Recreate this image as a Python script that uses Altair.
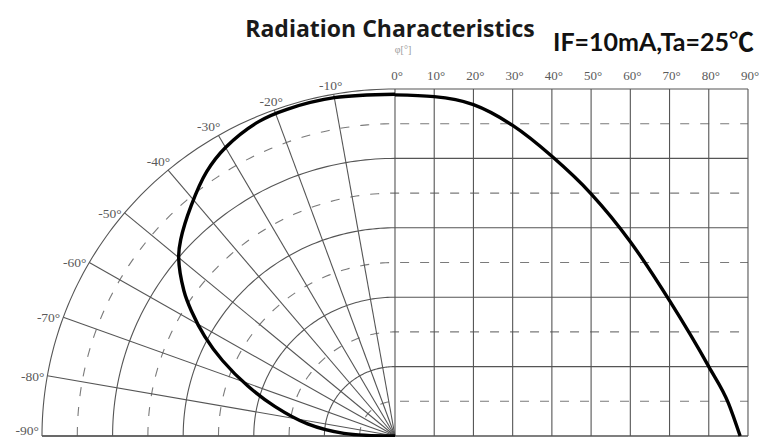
import altair as alt
import pandas as pd

# ---------------- data ----------------
# polar (left half): angle off-axis (deg) and relative intensity
polar_angle = [0, 10, 18, 23, 30, 35, 41, 47, 50, 55, 58, 62, 66, 71, 76, 82, 87, 90]
polar_intensity = [0.985, 0.99, 0.99, 0.985, 0.96, 0.93, 0.88, 0.83, 0.80, 0.73,
                   0.68, 0.61, 0.535, 0.44, 0.35, 0.25, 0.145, 0.0]
# rectangular (right half): angle (deg) and relative intensity
rect_angle = [0, 10, 20, 30, 40, 50, 60, 70, 80, 85, 88]
rect_intensity = [0.983, 0.978, 0.955, 0.895, 0.806, 0.698, 0.56, 0.39, 0.2, 0.095, 0.0]

polar_ticks = [-10, -20, -30, -40, -50, -60, -70, -80, -90]
top_ticks = [0, 10, 20, 30, 40, 50, 60, 70, 80, 90]
solid_levels = [0.2, 0.4, 0.6, 0.8, 1.0]
dashed_levels = [0.1, 0.3, 0.5, 0.7, 0.9]

title_text = "Radiation Characteristics"
cond_text = "IF=10mA,Ta=25℃"
axis_text = "φ[°]"

# ---------------- scales ----------------
xs = alt.Scale(domain=[-1.0963, 1.0312], nice=False, zero=False)
ys = alt.Scale(domain=[-0.0029, 1.2334], nice=False, zero=False)


def X(f):
    return alt.X(f, type="quantitative", scale=xs, axis=None)


def Y(f):
    return alt.Y(f, type="quantitative", scale=ys, axis=None)


GRID = "#555555"
DASH = "#7a7a7a"
LABEL = "#5a5a5a"
RAD = "PI/180"


def rings(levels, dashed):
    ch = (
        alt.Chart(pd.DataFrame({"lev": levels}))
        .transform_calculate(t="sequence(0, 92, 1)")
        .transform_flatten(["t"])
        .transform_calculate(
            gx=f"datum.t <= 90 ? -datum.lev*sin((90-datum.t)*{RAD}) : 1",
            gy=f"datum.t <= 90 ? datum.lev*cos((90-datum.t)*{RAD}) : datum.lev",
        )
    )
    if dashed:
        m = ch.mark_line(color=DASH, strokeWidth=1.1, strokeDash=[9, 11])
    else:
        m = ch.mark_line(color=GRID, strokeWidth=1.1)
    return m.encode(x=X("gx"), y=Y("gy"), detail="lev:N", order="t:Q")


ring_solid = rings(solid_levels, False)
ring_dashed = rings(dashed_levels, True)

radials = (
    alt.Chart(pd.DataFrame({"a": polar_ticks}))
    .transform_calculate(
        x0="0", y0="0",
        ex=f"-sin(abs(datum.a)*{RAD})",
        ey=f"cos(abs(datum.a)*{RAD})",
    )
    .mark_rule(color=GRID, strokeWidth=1.1)
    .encode(x=X("x0"), y=Y("y0"), x2="ex:Q", y2="ey:Q")
)

verticals = (
    alt.Chart(pd.DataFrame({"a": top_ticks}))
    .transform_calculate(vx="datum.a/90", y0="0", y1="1")
    .mark_rule(color=GRID, strokeWidth=1.1)
    .encode(x=X("vx"), y=Y("y0"), y2="y1:Q")
)

baseline = (
    alt.Chart(pd.DataFrame({"x0": [-1.0], "x1": [1.0], "y0": [0.0]}))
    .mark_rule(color=GRID, strokeWidth=1.5)
    .encode(x=X("x0"), x2="x1:Q", y=Y("y0"))
)

polar_df = pd.DataFrame({"idx": range(len(polar_angle)), "a": polar_angle, "r": polar_intensity})
polar_curve = (
    alt.Chart(polar_df)
    .transform_calculate(
        px=f"-datum.r*sin(datum.a*{RAD})",
        py=f"datum.r*cos(datum.a*{RAD})",
    )
    .mark_line(color="black", strokeWidth=3.4, interpolate="catmull-rom")
    .encode(x=X("px"), y=Y("py"), order="idx:Q")
)

rect_df = pd.DataFrame({"a": rect_angle, "v": rect_intensity})
rect_curve = (
    alt.Chart(rect_df)
    .transform_calculate(rx="datum.a/90")
    .mark_line(color="black", strokeWidth=3.4, interpolate="monotone")
    .encode(x=X("rx"), y=Y("v"))
)

lab_df = pd.DataFrame({"a": polar_ticks, "label": [f"{a}°" for a in polar_ticks]})
lab_base = alt.Chart(lab_df).transform_calculate(
    lx=f"-sin(abs(datum.a)*{RAD})",
    ly=f"cos(abs(datum.a)*{RAD})",
)
FONT_T = "Liberation Serif"
lab_top = (
    lab_base.transform_filter("datum.a >= -20")
    .mark_text(align="center", baseline="bottom", dx=-3, dy=-1, font=FONT_T, fontSize=13.5, color=LABEL)
    .encode(x=X("lx"), y=Y("ly"), text="label:N")
)
lab_mid = (
    lab_base.transform_filter("datum.a < -20 && datum.a >= -40")
    .mark_text(align="right", baseline="bottom", dx=2, dy=-1, font=FONT_T, fontSize=13.5, color=LABEL)
    .encode(x=X("lx"), y=Y("ly"), text="label:N")
)
lab_low = (
    lab_base.transform_filter("datum.a < -40 && datum.a > -90")
    .mark_text(align="right", baseline="middle", dx=-3, dy=1, font=FONT_T, fontSize=13.5, color=LABEL)
    .encode(x=X("lx"), y=Y("ly"), text="label:N")
)
lab_end = (
    lab_base.transform_filter("datum.a <= -90")
    .mark_text(align="right", baseline="bottom", dx=-3, dy=2, font=FONT_T, fontSize=13.5, color=LABEL)
    .encode(x=X("lx"), y=Y("ly"), text="label:N")
)

top_df = pd.DataFrame({"a": top_ticks, "label": [f"{a}°" for a in top_ticks]})
top_labels = (
    alt.Chart(top_df)
    .transform_calculate(tx="datum.a/90", ty="1")
    .mark_text(align="center", baseline="middle", dx=2, dy=-13, font=FONT_T, fontSize=13, color=LABEL)
    .encode(x=X("tx"), y=Y("ty"), text="label:N")
)

title_mark = (
    alt.Chart(pd.DataFrame({"tx": [-0.0142], "ty": [1.1499], "label": [title_text]}))
    .mark_text(align="center", baseline="alphabetic", font="Open Sans", fontWeight="bold", fontSize=23, color="#1a1a1a")
    .encode(x=X("tx"), y=Y("ty"), text="label:N")
)
cond_mark = (
    alt.Chart(pd.DataFrame({"tx": [0.4476], "ty": [1.1095], "label": [cond_text]}))
    .mark_text(align="left", baseline="alphabetic", font="Lato, 'Noto Sans CJK SC'", fontWeight="bold", fontSize=25, color="#111111")
    .encode(x=X("tx"), y=Y("ty"), text="label:N")
)
phi_mark = (
    alt.Chart(pd.DataFrame({"tx": [0.0227], "ty": [1.113], "label": [axis_text]}))
    .mark_text(align="center", baseline="middle", font=FONT_T, fontSize=10, color="#9a9a9a")
    .encode(x=X("tx"), y=Y("ty"), text="label:N")
)

chart = (
    alt.layer(
        ring_dashed, ring_solid, radials, verticals, baseline,
        polar_curve, rect_curve,
        lab_top, lab_mid, lab_low, lab_end, top_labels,
        title_mark, cond_mark, phi_mark,
    )
    .properties(width=751, height=429, autosize="none", padding=0, background="white")
    .configure_view(stroke=None)
)

chart.save("out.html", embed_options={"renderer": "svg", "actions": False})
